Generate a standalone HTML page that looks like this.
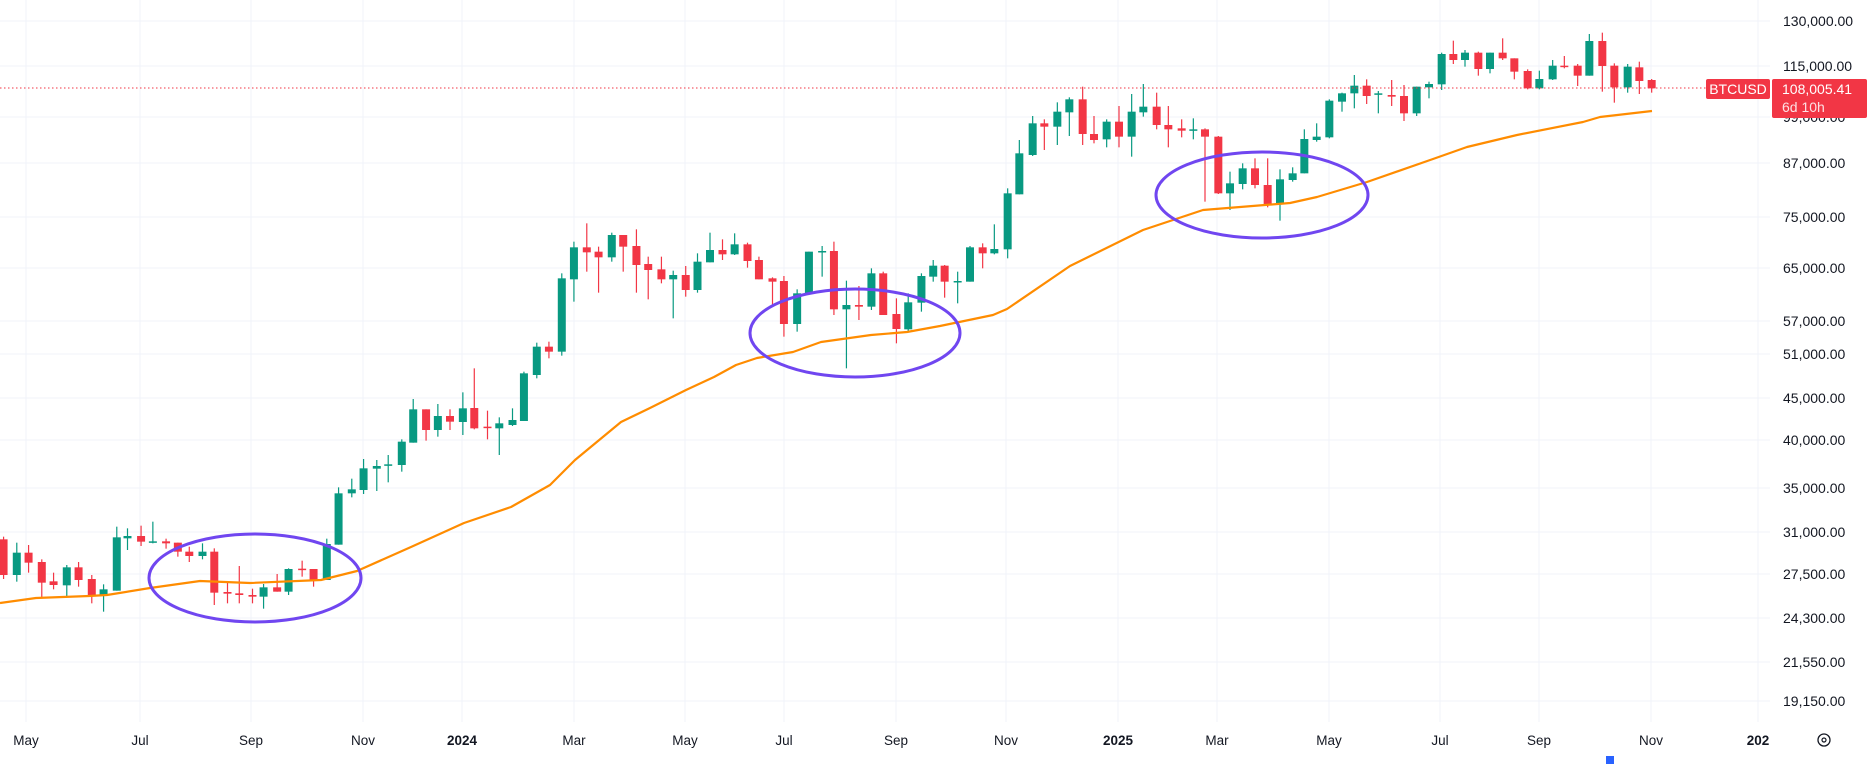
<!DOCTYPE html>
<html><head><meta charset="utf-8"><style>
html,body{margin:0;padding:0;background:#fff;}
svg{display:block;font-family:"Liberation Sans",sans-serif;}
</style></head><body>
<svg id="s" width="1871" height="764" xmlns="http://www.w3.org/2000/svg"></svg>
<script>
var s=document.getElementById('s'),h='';
var G='#089981',R='#f23645';
// grid
var py=[[21,'130,000.00'],[66,'115,000.00'],[117,'99,000.00'],[163,'87,000.00'],[217,'75,000.00'],[268,'65,000.00'],[321,'57,000.00'],[354,'51,000.00'],[398,'45,000.00'],[440,'40,000.00'],[488,'35,000.00'],[532,'31,000.00'],[574,'27,500.00'],[618,'24,300.00'],[662,'21,550.00'],[701,'19,150.00']];
var tx=[[26,'May'],[140,'Jul'],[251,'Sep'],[363,'Nov'],[462,'2024',1],[574,'Mar'],[685,'May'],[784,'Jul'],[896,'Sep'],[1006,'Nov'],[1118,'2025',1],[1217,'Mar'],[1329,'May'],[1440,'Jul'],[1539,'Sep'],[1651,'Nov'],[1758,'202',1]];
py.forEach(function(p){h+='<line x1="0" x2="1770" y1="'+p[0]+'" y2="'+p[0]+'" stroke="#f0f3fa" stroke-width="1"/>';});
tx.forEach(function(t){h+='<line x1="'+t[0]+'" x2="'+t[0]+'" y1="0" y2="722" stroke="#f0f3fa" stroke-width="1"/>';});
// candles: [zx,bodyTop,bodyBot,wickTop,wickBot,c]
function add(arr,x0,y0,hs,vs){arr.forEach(function(c){var x=x0+c[0]/hs,bt=y0+c[1]/vs,bb=y0+c[2]/vs,wt=y0+c[3]/vs,wb=y0+c[4]/vs,col=c[5]?G:R;
h+='<line x1="'+x+'" x2="'+x+'" y1="'+wt+'" y2="'+wb+'" stroke="'+col+'" stroke-width="1.2"/>';
h+='<rect x="'+(x-4)+'" y="'+bt+'" width="8" height="'+Math.max(1.5,bb-bt)+'" fill="'+col+'"/>';});}
add([[10,478,585,470,597,0],[47,518,585,488,605,1],[80,518,548,495,578,0],[117,546,608,538,655,0],[150,604,615,578,628,0],[187,562,616,555,648,1],[220,562,600,546,620,0],[257,597,645,585,670,0],[290,628,646,613,695,1],[327,472,632,440,632,1],[357,468,475,445,510,1],[395,468,485,437,498,0],[428,484,487,425,490,1],[465,484,490,476,506,0],[498,488,515,488,530,0],[530,515,528,500,546,0],[567,515,528,490,538,1],[600,515,638,505,675,0],[637,636,641,608,670,0],[670,640,645,558,670,0],[707,645,650,626,670,0],[738,622,650,612,686,1],[776,622,635,582,635,0],[808,567,635,565,645,1],[846,566,568,542,590,0],[878,567,600,567,620,0],[915,492,600,476,600,1],[948,340,494,322,494,1],[985,328,340,296,352,1],[1018,265,330,237,342,1],[1055,258,266,240,333,1],[1087,253,256,225,307,1],[1125,185,255,178,275,1],[1157,88,188,57,188,1],[1193,88,150,88,182,0],[1226,108,150,72,170,1],[1260,108,125,88,150,0],[1296,85,126,37,165,1]],0,380,2.8,3);
add([[208,624,685,505,688,0],[245,680,682,632,718,0],[278,670,685,652,765,1],[315,660,675,625,678,1],[347,520,663,515,663,1],[383,440,525,428,535,1],[417,440,455,425,475,0],[453,235,455,220,467,1],[487,142,238,125,305,1],[523,142,157,70,215,0],[556,155,172,140,278,0],[593,105,172,98,185,1],[625,105,140,105,215,0],[662,138,195,88,278,0],[695,192,210,170,298,0],[732,208,238,170,250,0],[765,225,238,212,355,1],[800,225,270,198,290,0],[833,185,270,160,278,1],[868,150,187,98,187,1],[903,150,163,118,180,0],[937,133,163,100,165,1],[973,133,183,128,203,0],[1005,180,238,170,238,0],[1043,235,245,232,318,0],[1075,243,372,228,410,0],[1112,280,372,268,395,1],[1145,155,280,155,280,1],[1182,153,156,138,230,1],[1215,153,328,125,345,0],[1250,315,328,242,505,1],[1285,315,320,258,360,0],[1320,220,320,205,330,1],[1353,220,345,215,345,0],[1390,342,387,295,430,0],[1423,307,388,280,395,1],[1460,228,308,220,335,1],[1493,197,230,180,245,1],[1525,197,245,195,293,0]],400,200,2.8,3);
add([[53,663,667,635,730,1],[90,562,665,558,665,1],[128,562,580,550,625,0],[163,567,580,493,583,1],[203,400,568,385,595,1],[238,280,403,240,403,1],[278,190,285,168,288,1],[313,190,200,178,270,0],[352,155,200,127,255,1],[388,118,157,112,228,1],[428,118,222,80,255,0],[462,222,240,168,250,0],[500,185,238,178,262,1],[537,185,230,138,262,0],[575,155,230,102,290,1],[610,140,157,72,170,1],[650,140,195,98,208,0],[685,195,208,138,262,0],[725,205,212,178,232,0],[760,208,210,175,238,1],[795,208,230,205,425,0],[835,230,400,228,402,0],[870,370,400,335,450,1],[908,325,372,310,388,1],[945,325,375,295,385,0],[983,375,432,295,442,0],[1020,358,432,328,482,1],[1058,340,360,322,365,1],[1093,237,340,208,340,1],[1130,230,240,190,245,1],[1168,122,232,118,235,1],[1206,100,125,98,155,1],[1243,77,100,45,145,1],[1280,77,108,58,132,0],[1315,100,103,93,160,1]],940,60,3,3);
add([[275,195,200,150,228,0],[312,198,250,165,273,0],[350,170,250,170,258,1],[387,162,172,155,205,1],[425,72,163,68,180,1],[460,72,90,32,102,0],[495,68,90,60,110,1],[535,68,117,65,137,0],[570,68,117,68,130,1],[608,68,85,25,90,0],[643,85,125,85,148,0],[683,123,175,118,178,0],[718,147,175,122,178,1],[758,107,148,90,150,1],[793,107,110,78,115,0],[833,107,137,102,168,0],[868,33,137,12,137,1],[907,33,108,8,185,0],[943,107,172,100,218,0],[983,110,172,102,188,1],[1018,112,153,95,192,0],[1055,150,175,147,188,0]],1300,30,3,3);
// MA
var ma=[[0,603],[36,598],[89,596],[107,595],[150,588],[200,581],[250,583],[321,580],[357,571],[411,547],[464,523],[511,507],[550,485],[575,460],[621,422],[650,408],[686,390],[714,377],[736,365],[757,358],[793,352],[821,342],[871,335],[907,332],[940,326],[993,315],[1007,309],[1070,266],[1143,230],[1203,210],[1290,203],[1317,197],[1367,182],[1433,159],[1467,147],[1517,135],[1583,122],[1600,117],[1652,111]];
h+='<polyline fill="none" stroke="#ff8c00" stroke-width="2.2" stroke-linejoin="round" points="'+ma.map(function(p){return p.join(',')}).join(' ')+'"/>';
// ellipses
[[255,578,106,44],[855,333,105,44],[1262,195,106,43]].forEach(function(e){h+='<ellipse cx="'+e[0]+'" cy="'+e[1]+'" rx="'+e[2]+'" ry="'+e[3]+'" fill="none" stroke="#7046f0" stroke-width="3"/>';});
// price line
h+='<line x1="0" x2="1706" y1="88" y2="88" stroke="#f23645" stroke-width="1" stroke-dasharray="1.5,2.5"/>';
// axis labels
py.forEach(function(p){h+='<text x="1783" y="'+(p[0]+5)+'" font-size="14" fill="#131722">'+p[1]+'</text>';});
tx.forEach(function(t){h+='<text x="'+t[0]+'" y="745" font-size="13.5" text-anchor="middle" fill="#131722"'+(t[2]?' font-weight="bold"':'')+'>'+t[1]+'</text>';});
h+='<rect x="1706" y="79" width="64" height="20" rx="2" fill="#f23645"/><text x="1738" y="94" font-size="14" text-anchor="middle" fill="#fff">BTCUSD</text>';
h+='<rect x="1772" y="79" width="95" height="39" rx="2" fill="#f23645"/><text x="1782" y="94" font-size="14" fill="#fff">108,005.41</text><text x="1782" y="112" font-size="14" fill="#fde0e3">6d 10h</text>';
h+='<circle cx="1824" cy="740" r="6" fill="none" stroke="#131722" stroke-width="1.3"/><circle cx="1824" cy="740" r="2" fill="none" stroke="#131722" stroke-width="1.2"/>';
h+='<rect x="1606" y="756" width="8" height="8" fill="#2962ff"/>';
s.innerHTML=h;
</script>
</body></html>
